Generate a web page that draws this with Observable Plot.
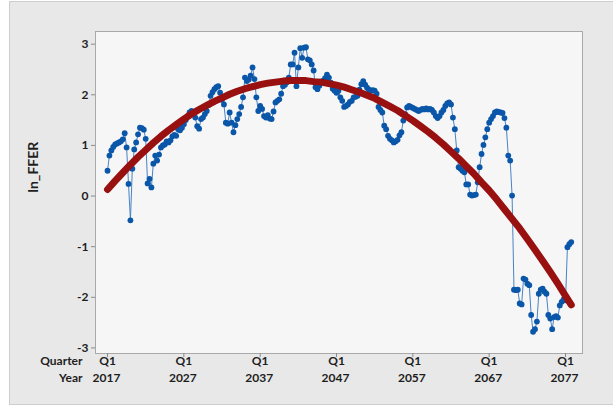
<!DOCTYPE html>
<html>
<head>
<meta charset="utf-8">
<script src="https://cdn.jsdelivr.net/npm/d3@7"></script>
<script src="https://cdn.jsdelivr.net/npm/@observablehq/plot@0.6"></script>
<style>
  html, body { margin: 0; padding: 0; background: #ffffff; }
  #wrap { position: relative; width: 613px; height: 406px; overflow: hidden; }
  #panel { position: absolute; left: 9px; top: 1px; width: 606px; height: 402px;
           background: #e8e8e8; border: 1px solid #cdcdcd; }
  #chart { position: absolute; left: 0; top: 0; }
</style>
</head>
<body>
<div id="wrap"><div id="panel"></div><div id="chart"></div></div>
<script>
// Quarterly series, 2017 Q1 onward (index 0 = 2017 Q1)
const lnFFER = [
  0.50, 0.80, 0.90, 0.97, 1.02, 1.04, 1.06, 1.08, 1.12, 1.24,
  0.96, 0.24, -0.48, 0.54, 0.92, 1.06, 1.22, 1.35, 1.34, 1.31,
  1.13, 0.25, 0.34, 0.17, 0.64, 0.80, 0.70, 0.82, 0.96, 1.00,
  1.02, 1.08, 1.06, 1.10, 1.18, 1.21, 1.19, 1.32, 1.30, 1.35,
  1.42, 1.50, 1.58, 1.65, 1.68, 1.62, 1.55, 1.38, 1.33, 1.52,
  1.55, 1.62, 1.68, 1.80, 1.98, 2.05, 2.11, 2.15, 2.17, 2.04,
  1.90, 1.81, 1.45, 1.43, 1.65, 1.45, 1.26, 1.40, 1.52, 1.62,
  1.76, 1.95, 2.34, 2.27, 2.30, 2.38, 2.54, 2.31, 1.95, 1.68,
  1.78, 1.72, 1.58, 1.55, 1.60, 1.53, 1.52, 1.67, 1.85, 1.88,
  1.91, 2.02, 2.17, 2.20, 2.25, 2.34, 2.60, 2.60, 2.83, 2.17,
  2.54, 2.92, 2.73, 2.93, 2.94, 2.70, 2.68, 2.60, 2.48, 2.15,
  2.11, 2.18, 2.24, 2.28, 2.33, 2.40, 2.34, 2.24, 2.12, 2.08,
  2.04, 2.08, 1.95, 1.88, 1.76, 1.78, 1.81, 1.86, 1.88, 1.95,
  1.96, 1.98, 2.10, 2.21, 2.27, 2.20, 2.14, 2.10, 2.08, 2.09,
  2.08, 2.02, 1.76, 1.70, 1.65, 1.39, 1.32, 1.19, 1.13, 1.10,
  1.06, 1.08, 1.11, 1.20, 1.26, 1.49, 1.62, 1.75, 1.78, 1.76,
  1.74, 1.72, 1.70, 1.68, 1.70, 1.72, 1.71, 1.73, 1.71, 1.72,
  1.70, 1.65, 1.58, 1.54, 1.58, 1.65, 1.70, 1.78, 1.83, 1.85,
  1.81, 1.55, 1.32, 0.90, 0.57, 0.54, 0.50, 0.47, 0.23, 0.23,
  0.03, 0.01, 0.02, 0.03, 0.27, 0.57, 0.83, 1.01, 1.16, 1.32,
  1.45, 1.52, 1.58, 1.65, 1.67, 1.66, 1.65, 1.64, 1.54, 1.35,
  0.80, 0.70, 0.01, -1.85, -1.86, -1.85, -2.12, -2.14, -1.63, -1.65,
  -1.73, -1.76, -2.35, -2.68, -2.63, -2.48, -1.93, -1.85, -1.83, -1.89,
  -1.93, -2.35, -2.42, -2.63, -2.39, -2.37, -2.40, -2.16, -2.09, -2.04,
  -2.06, -1.01, -0.95, -0.91
];

// Fitted trend, sampled once a year (quarter index) plus the last quarter
const fitQuarter = [
  0, 4, 8, 12, 16, 20, 24, 28, 32, 36, 40, 44, 48, 52, 56, 60, 64, 68, 72, 76,
  80, 84, 88, 92, 96, 100, 104, 108, 112, 116, 120, 124, 128, 132, 136, 140, 144, 148, 152, 156,
  160, 164, 168, 172, 176, 180, 184, 188, 192, 196, 200, 204, 208, 212, 216, 220, 224, 228, 232, 236,
  240, 243
];
const fitValue = [
  0.13, 0.30, 0.46, 0.62, 0.77, 0.91, 1.05, 1.18, 1.30, 1.41,
  1.52, 1.62, 1.71, 1.79, 1.87, 1.94, 2.01, 2.07, 2.12, 2.16,
  2.20, 2.23, 2.25, 2.27, 2.28, 2.28, 2.28, 2.26, 2.25, 2.22,
  2.19, 2.15, 2.10, 2.05, 1.99, 1.93, 1.85, 1.77, 1.69, 1.59,
  1.49, 1.38, 1.27, 1.15, 1.02, 0.88, 0.74, 0.59, 0.44, 0.27,
  0.11, -0.07, -0.26, -0.45, -0.64, -0.85, -1.06, -1.28, -1.50, -1.73,
  -1.97, -2.15
];

// Axis ticks
const yTicks = [-3, -2, -1, 0, 1, 2, 3];
const xTickQuarter = [0, 40, 80, 120, 160, 200, 240];
const xTickQ = ["Q1", "Q1", "Q1", "Q1", "Q1", "Q1", "Q1"];
const xTickYear = ["2017", "2027", "2037", "2047", "2057", "2067", "2077"];

const series = lnFFER.map((v, i) => ({t: i, v}));
const fit = fitQuarter.map((t, i) => ({t, v: fitValue[i]}));
const ticks = xTickQuarter.map((t, i) => ({t, q: xTickQ[i], year: xTickYear[i]}));

const font = "Lato, 'Noto Sans', sans-serif";

const chart = Plot.plot({
  width: 613,
  height: 406,
  marginLeft: 95,
  marginRight: 31,
  marginTop: 31,
  marginBottom: 53,
  style: {background: "transparent", fontFamily: font, fontSize: "12px", color: "#1e1e1e", overflow: "visible"},
  x: {domain: [-6.3, 248.9]},
  y: {domain: [-3.11, 3.25]},
  marks: [
    Plot.frame({fill: "#f6f6f6", stroke: "#a9a9a9"}),
    Plot.axisY({ticks: yTicks, tickSize: 4, tickPadding: 3, label: null, stroke: "#8a8a8a",
                fontWeight: 700, tickFormat: d => (d < 0 ? "-" + Math.abs(d) : String(d))}),
    Plot.axisX({ticks: xTickQuarter, tickSize: 4, tickFormat: () => "", label: null, stroke: "#8a8a8a"}),
    Plot.text(ticks, {x: "t", text: "q", frameAnchor: "bottom", dy: 11, fontWeight: 700}),
    Plot.text(ticks, {x: "t", text: "year", frameAnchor: "bottom", dy: 28, dx: -1, fontWeight: 700}),
    Plot.text(["Quarter"], {frameAnchor: "bottom-left", textAnchor: "end", dx: -13, dy: 11, fontWeight: 700}),
    Plot.text(["Year"], {frameAnchor: "bottom-left", textAnchor: "end", dx: -13, dy: 28, fontWeight: 700}),
    Plot.text(["ln_FFER"], {frameAnchor: "left", rotate: -90, dx: -62, fontWeight: 700, fontSize: 14}),
    Plot.line(series, {x: "t", y: "v", stroke: "#4a82c4", strokeWidth: 1}),
    Plot.dot(series, {x: "t", y: "v", r: 2.9, fill: "#0a56a8"}),
    Plot.line(fit, {x: "t", y: "v", stroke: "#981010", strokeWidth: 7, curve: "linear"})
  ]
});
document.getElementById("chart").append(chart);
</script>
</body>
</html>
